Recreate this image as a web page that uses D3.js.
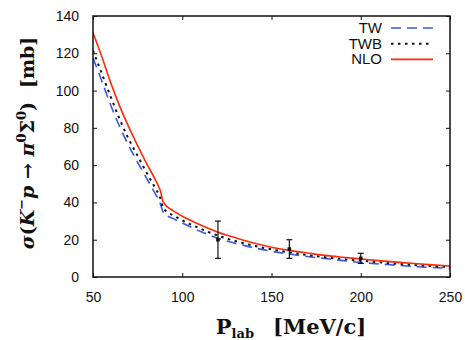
<!DOCTYPE html>
<html>
<head>
<meta charset="utf-8">
<script src="https://cdn.jsdelivr.net/npm/d3@7"></script>
<style>
  body { margin: 0; background: #fff; }
  svg { display: block; }
  .tick text { font-family: "Liberation Sans", Arial, sans-serif; font-size: 14px; fill: #111; }
  .legend text { font-family: "Liberation Sans", Arial, sans-serif; font-size: 15px; fill: #111; }
  .title { font-family: "DejaVu Serif", "Liberation Serif", serif; font-weight: bold; fill: #111; }
</style>
</head>
<body>
<div id="chart"></div>
<script>
// beam momentum (MeV/c)
var plab = [50, 55, 60, 65, 70, 75, 80, 85, 87, 88, 89, 90, 95, 100, 110, 120, 130, 140, 150, 160, 170, 180, 190, 200, 210, 220, 230, 240, 250];

// cross sections (mb)
var tw  = [117.5, 105, 92, 80.5, 70.5, 61.5, 53, 44.5, 41, 38.5, 35.5, 34, 31.3, 29, 24.5, 20.8, 18, 15.7, 13.8, 12.3, 11, 9.9, 8.8, 7.8, 7, 6.3, 5.6, 5.1, 4.6];
var twb = [121.5, 109, 96.5, 84.5, 74, 65, 56, 47.5, 44, 41.5, 37.8, 36.2, 33, 30.4, 26, 22.2, 19.2, 16.8, 14.8, 13.2, 11.8, 10.6, 9.6, 8.8, 7.9, 7.1, 6.4, 5.8, 5.3];
var nlo = [131, 118, 104, 91.5, 80.5, 70.5, 61, 52, 48, 45.5, 41, 39.3, 35.5, 32.6, 28, 24, 21, 18.2, 16, 14.3, 12.9, 11.6, 10.6, 9.7, 8.8, 8, 7.2, 6.5, 5.9];

// experimental points
var expP = [120, 160, 200];
var expS = [20, 15, 10];
var expE = [10, 5, 2.7];

var xTicks = [50, 100, 150, 200, 250];
var yTicks = [0, 20, 40, 60, 80, 100, 120, 140];

var seriesNames = ["TW", "TWB", "NLO"];
var seriesData = [tw, twb, nlo];
var seriesColor = ["#3558ee", "#111", "#ff2a0a"];
var seriesDash = ["10,6", "2.5,4.5", null];

var W = 465, H = 340;
var margin = { top: 16, right: 15, bottom: 63, left: 93 };
var w = W - margin.left - margin.right;
var h = H - margin.top - margin.bottom;

var svg = d3.select('#chart').append('svg')
    .attr('width', W)
    .attr('height', H);

var g = svg.append('g')
    .attr('transform', 'translate(' + margin.left + ',' + margin.top + ')');

var x = d3.scaleLinear().domain([50, 250]).range([0, w]);
var y = d3.scaleLinear().domain([0, 140]).range([h, 0]);

// axes, ticks pointing inward and mirrored
g.append('g')
    .attr('transform', 'translate(0,' + h + ')')
    .call(d3.axisBottom(x).tickValues(xTicks).tickSize(-4).tickPadding(15))
    .call(function(a) { a.select('.domain').remove(); });
g.append('g')
    .call(d3.axisLeft(y).tickValues(yTicks).tickSize(-4).tickPadding(14))
    .call(function(a) { a.select('.domain').remove(); });
g.append('g')
    .call(d3.axisTop(x).tickValues(xTicks).tickSize(-4).tickFormat(''))
    .call(function(a) { a.select('.domain').remove(); });
g.append('g')
    .attr('transform', 'translate(' + w + ',0)')
    .call(d3.axisRight(y).tickValues(yTicks).tickSize(-4).tickFormat(''))
    .call(function(a) { a.select('.domain').remove(); });
g.selectAll('.tick line').attr('stroke', '#111').attr('stroke-width', 1);

var clip = g.append('clipPath').attr('id', 'clip')
    .append('rect').attr('width', w).attr('height', h);

var line = d3.line()
    .x(function(d) { return x(d[0]); })
    .y(function(d) { return y(d[1]); })
    .curve(d3.curveMonotoneX);

seriesData.forEach(function(s, i) {
    var pts = plab.map(function(p, k) { return [p, s[k]]; });
    g.append('path')
        .attr('clip-path', 'url(#clip)')
        .attr('d', line(pts))
        .attr('fill', 'none')
        .attr('stroke', seriesColor[i])
        .attr('stroke-width', i == 1 ? 2 : 1.6)
        .attr('stroke-dasharray', seriesDash[i]);
});

// error bars
var eb = g.append('g');
expP.forEach(function(p, i) {
    var cx = x(p);
    eb.append('line').attr('x1', cx).attr('x2', cx)
        .attr('y1', y(expS[i] - expE[i])).attr('y2', y(expS[i] + expE[i]))
        .attr('stroke', '#111').attr('stroke-width', 1.2);
    [expS[i] - expE[i], expS[i] + expE[i]].forEach(function(v) {
        eb.append('line').attr('x1', cx - 3).attr('x2', cx + 3)
            .attr('y1', y(v)).attr('y2', y(v))
            .attr('stroke', '#111').attr('stroke-width', 1.2);
    });
    eb.append('rect').attr('x', cx - 1.8).attr('y', y(expS[i]) - 1.8)
        .attr('width', 3.6).attr('height', 3.6).attr('fill', '#111');
});

// frame
g.append('rect')
    .attr('width', w).attr('height', h)
    .attr('fill', 'none').attr('stroke', '#111').attr('stroke-width', 1.5);

// legend
var leg = svg.append('g').attr('class', 'legend');
seriesNames.forEach(function(n, i) {
    var ly = 28 + i * 15.7;
    leg.append('text')
        .attr('x', 382).attr('y', ly + 5)
        .attr('text-anchor', 'end')
        .text(n);
    leg.append('line')
        .attr('x1', 391).attr('x2', 433)
        .attr('y1', ly).attr('y2', ly)
        .attr('stroke', seriesColor[i])
        .attr('stroke-width', i == 1 ? 2 : 1.6)
        .attr('stroke-dasharray', seriesDash[i]);
});

// x title
var xt = svg.append('text').attr('class', 'title')
    .attr('x', 291).attr('y', 334)
    .attr('text-anchor', 'middle')
    .style('font-size', '21px');
xt.append('tspan').text('P');
xt.append('tspan').attr('dy', 4).style('font-size', '13px').text('lab');
xt.append('tspan').attr('dy', -4).attr('dx', 19).text('[MeV/c]');

// y title
var yt = svg.append('text').attr('class', 'title')
    .attr('transform', 'translate(34,143) rotate(-90)')
    .attr('text-anchor', 'middle')
    .style('font-size', '19px');
yt.append('tspan').style('font-style', 'italic').text('σ');
yt.append('tspan').text('(');
yt.append('tspan').style('font-style', 'italic').text('K');
yt.append('tspan').attr('dy', -8).style('font-size', '13px').text('−');
yt.append('tspan').attr('dy', 8).style('font-style', 'italic').text('p');
yt.append('tspan').text(' → ');
yt.append('tspan').style('font-style', 'italic').text('π');
yt.append('tspan').attr('dy', -8).style('font-size', '13px').text('0');
yt.append('tspan').attr('dy', 8).text('Σ');
yt.append('tspan').attr('dy', -8).style('font-size', '13px').text('0');
yt.append('tspan').attr('dy', 8).text(')');
yt.append('tspan').attr('dx', 14).text('[mb]');
</script>
</body>
</html>
